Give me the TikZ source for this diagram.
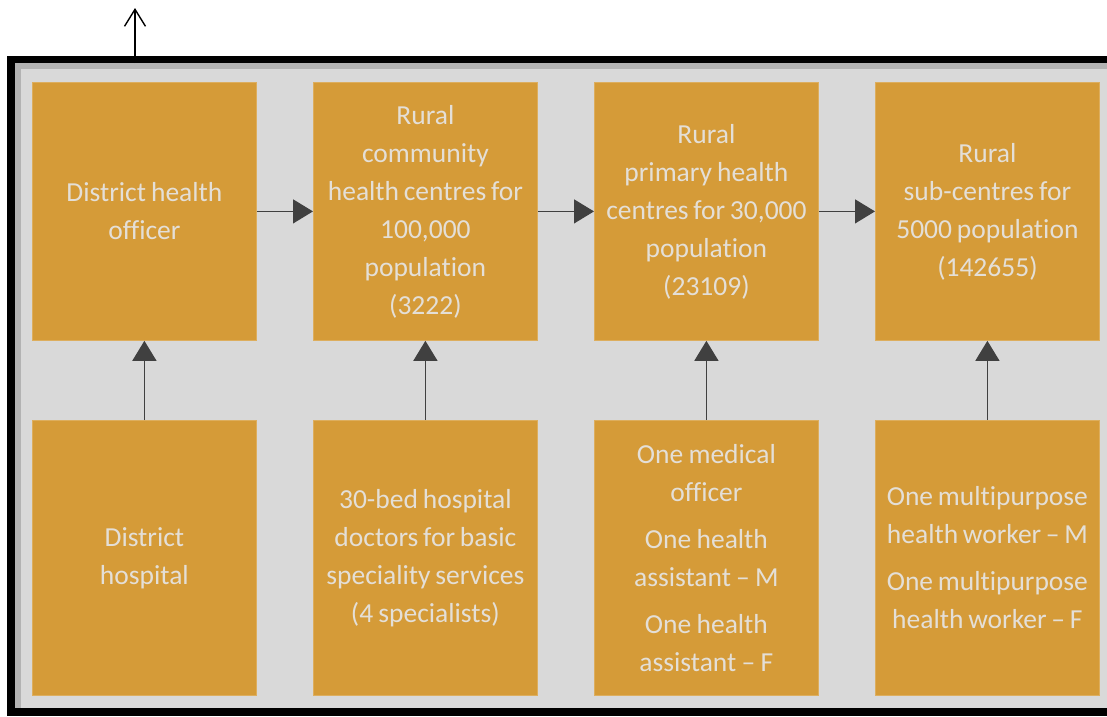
\documentclass[tikz,border=0pt]{standalone}
\usepackage{fontspec}
\setmainfont[Ligatures={NoCommon,NoContextual},RawFeature={-liga;-calt;-clig}]{Carlito}
\usetikzlibrary{arrows.meta}
\definecolor{boxfill}{HTML}{D59B38}
\definecolor{boxedge}{HTML}{DDAE5E}
\definecolor{txt}{HTML}{E4DFD7}
\definecolor{bggray}{HTML}{D9D9D9}
\definecolor{shadegray}{HTML}{B3B3B3}
\definecolor{arr}{HTML}{404040}
\tikzset{
  orgbox/.style={draw=boxedge, line width=0.8pt, fill=boxfill, text=txt,
    minimum width=224pt, inner sep=0pt, text width=222pt, align=center,
    anchor=north west, font={\fontsize{27.5}{38}\selectfont},
    execute at begin node={\spaceskip=4.5pt plus 1pt minus 1pt\relax}},
  toprow/.style={orgbox, minimum height=258pt},
  botrow/.style={orgbox, minimum height=275pt},
  flow/.style={draw=arr, line width=1.3pt, -{Triangle[length=20pt,width=24pt]}, shorten <=0pt},
  uparrow/.style={draw=black, line width=1.4pt, -{Straight Barb[length=17pt,width=21pt,line width=1.4pt]}}
}
\begin{document}
\begin{tikzpicture}[x=1pt,y=-1pt]
\useasboundingbox (0,0) rectangle (1107,716);
\fill[black] (7,56) rectangle (1107,716);
\fill[shadegray] (15,63) rectangle (1107,708);
\fill[bggray] (21,69) rectangle (1107,708);
\coordinate (frametop) at (135,63);
\coordinate (uptip) at (135,8);
\draw[uparrow] (frametop) -- (uptip);

\node[toprow] (t1) at (32,82) {District health\\officer};
\node[toprow] (t2) at (313,82) {Rural\\community\\health centres for\\100,000\\population\\(3222)};
\node[toprow] (t3) at (594,82) {Rural\\primary health\\centres for 30,000\\population\\(23109)};
\node[toprow] (t4) at (875,82) {Rural\\sub-centres for\\5000 population\\(142655)};

\node[botrow] (b1) at (32,420) {District\\hospital};
\node[botrow] (b2) at (313,420) {30-bed hospital\\doctors for basic\\speciality services\\(4 specialists)};
\node[botrow] (b3) at (594,420) {One medical\\officer\\[9pt]One health\\assistant – M\\[9pt]One health\\assistant – F};
\node[botrow] (b4) at (875,420) {One multipurpose\\health worker – M\\[9pt]One multipurpose\\health worker – F};

\draw[flow] (t1.east) -- (t2.west);
\draw[flow] (t2.east) -- (t3.west);
\draw[flow] (t3.east) -- (t4.west);
\foreach \i in {1,2,3,4} {
  \draw[flow] (b\i.north) -- (t\i.south);
}
\end{tikzpicture}
\end{document}
